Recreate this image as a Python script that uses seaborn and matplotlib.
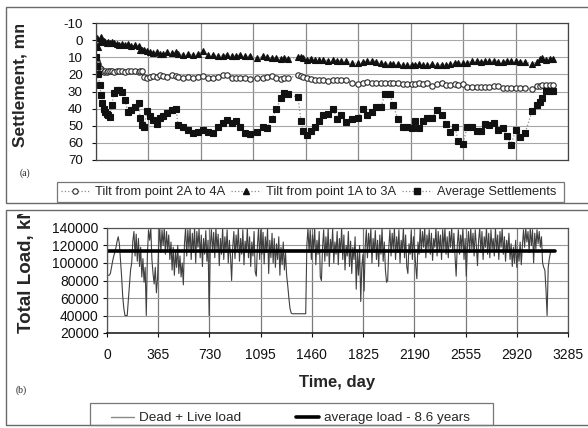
import numpy as np
import pandas as pd
import matplotlib
matplotlib.use("Agg")
import matplotlib.pyplot as plt
import seaborn as sns
from matplotlib.patches import Rectangle
from matplotlib.lines import Line2D
from matplotlib.transforms import Bbox, TransformedBbox

# ---------------- data: panel (a) settlements ----------------
days = [0, 8, 16, 25, 35, 45, 55, 65, 75, 85,
        97, 110, 125, 144, 160, 179, 200, 223, 247, 271,
        299, 306, 318, 334, 353, 376, 397, 422, 445, 466,
        492, 527, 557, 571, 606, 640, 675, 710, 745, 780,
        814, 849, 884, 912, 947, 974, 1002, 1037, 1072, 1121,
        1162, 1190, 1225, 1253, 1288, 1309, 1336, 1406, 1427, 1441,
        1469, 1496, 1524, 1552, 1580, 1615, 1650, 1677, 1705, 1740,
        1782, 1823, 1858, 1886, 1921, 1949, 1984, 2011, 2046, 2067,
        2102, 2137, 2165, 2199, 2220, 2248, 2276, 2304, 2339, 2373,
        2408, 2436, 2464, 2499, 2520, 2554, 2582, 2617, 2652, 2680,
        2707, 2735, 2770, 2798, 2833, 2861, 2888, 2923, 2951, 2986,
        3035, 3069, 3090, 3104, 3132, 3160, 3180]

tilt_2a_4a = [10, 12, 14, 16, 17, 18, 18.5, 18, 18.5, 18,
              18.2, 18, 18.5, 18, 18.2, 18, 18.5, 18, 18.2, 18,
              18.5, 18, 18.2, 21.5, 22, 21.5, 21, 21.5, 20.6, 21,
              21.5, 20.3, 21, 21.5, 22, 21.8, 22, 21.5, 21, 22,
              22, 21.8, 20.5, 20.5, 22, 22.3, 22, 22, 22.5, 22,
              22, 21.5, 21, 22, 22.5, 22, 22.2, 20.6, 21, 21.7,
              22, 22.5, 23, 23.5, 23.5, 24, 23, 23, 23.5, 23,
              25, 25.5, 25, 24.5, 25, 25, 24.8, 25, 25.2, 25,
              25, 25.5, 25.8, 25.6, 25.6, 25.2, 25.6, 25, 26.5, 25.8,
              25.2, 26, 26.2, 25.5, 26.3, 25.5, 27.5, 27.5, 27.2, 27.5,
              27.5, 27.5, 26.5, 26.8, 28, 28, 28, 28, 28.2, 28,
              28.8, 26.5, 27, 26, 26, 26, 26]

tilt_1a_3a = [3, -1, 4, 1, -2, 0, 0.5, 1, 1.5, 1,
              1.5, 1.2, 1.8, 2.5, 3, 2.5, 3, 2.5, 3.5, 3,
              3.5, 5.5, 6, 5.5, 6.5, 7, 7.5, 7, 8, 8,
              7, 7.5, 7, 8, 8.5, 8.2, 8.5, 8, 6.5, 8.5,
              8.8, 9, 9, 8.8, 9, 9, 8.8, 9, 9.5, 10.7,
              9.5, 10, 10.5, 10.5, 11, 10.5, 11, 10, 10, 10.5,
              11.4, 11, 11.5, 11.4, 11.5, 12, 11.5, 12, 12.3, 12,
              13.4, 13.4, 13, 12, 12, 12.5, 13.6, 14, 14, 13.8,
              14.2, 14.5, 14.3, 14.6, 14.3, 14.2, 14.3, 14.3, 14.2, 14.3,
              14.5, 14.3, 14, 13.4, 13.2, 13.4, 13.2, 12.4, 12.4, 12.6,
              12.4, 12.4, 12, 12.5, 12.8, 12, 12.4, 12, 12.5, 12.6,
              14, 12.5, 11, 10.5, 11.4, 11, 11]

avg_settlement = [10, 15, 20, 26, 32, 37, 40, 42, 43, 44,
                  45, 38, 31, 29, 29, 30, 35, 42, 41, 39,
                  37, 45.5, 49.7, 51, 41.5, 44.5, 46.5, 49, 45.5, 44.5,
                  42.5, 41, 40, 49.5, 50.5, 52.5, 54, 53.5, 52.5, 53.5,
                  54, 50.5, 48.5, 46.5, 48.5, 47.5, 50.5, 54, 55, 53.5,
                  51, 51.5, 46, 40.5, 34, 31, 31.4, 33.5, 47, 53,
                  55.5, 53, 50.5, 47, 44, 43, 40, 46, 44, 48,
                  46, 45.5, 40, 44, 42, 39, 39, 31.5, 31.5, 38,
                  46, 50.5, 51, 51.3, 47.5, 51.3, 47.5, 45.5, 45.5, 40.6,
                  43.5, 49, 53.7, 51, 58.7, 60.6, 51, 51, 53.3, 53.3,
                  49, 49.8, 48.4, 52.3, 51.3, 56.2, 61, 52.3, 56.8, 54.2,
                  41.6, 38, 36.3, 33.8, 29.9, 29.9, 29.9]

settle_labels = ["Tilt from point 2A to 4A", "Tilt from point 1A to 3A", "Average Settlements"]
settle_yticks = [-10, 0, 10, 20, 30, 40, 50, 60, 70]

# ---------------- data: panel (b) loads ----------------
load_step_days = 8   # sampling interval of the load record
load_kN_thousands = [
    86, 86, 86, 88, 95, 102, 108, 112, 118, 125, 130, 122, 104, 85, 62, 48, 40, 40, 40, 58, 75, 92, 100, 125,
    136, 108, 133, 102, 128, 96, 118, 84, 105, 78, 95, 40, 110,
    138, 126, 140, 104, 88, 76, 95, 66, 82,
    118, 140, 112, 138, 120, 140, 110, 136, 115, 132, 104,
    124, 92, 118, 86, 112, 95, 120, 88, 108, 84, 100, 75,
    122, 140, 108, 138, 116, 140, 104, 134, 112, 140, 100, 136, 118, 139, 106, 132, 96, 128, 110, 137, 102, 126, 40,
    120, 138, 112, 135, 106, 140, 115, 133, 97, 128, 110, 140, 104, 130, 112, 138, 100, 126, 108, 80, 118,
    136, 105, 132, 114, 140, 102, 128, 110, 138, 98, 125, 112, 140, 106, 130, 96, 124, 108, 136, 90, 85, 120, 140, 104,
    138, 110, 135, 99, 130, 112, 140, 88, 126, 106, 134, 100, 128, 95, 122, 104, 130, 86, 118, 98, 124, 92, 112, 86, 74,
    60, 48, 43, 42, 42, 42, 42, 42, 42, 42, 42, 42, 42, 42, 42, 42, 120, 140,
    112, 138, 104, 132, 116, 140, 98, 126, 110, 136, 84, 80, 118, 138, 102, 130, 108, 140, 96, 127, 113, 139, 100, 124, 110, 136,
    98, 128, 112, 140, 104, 132, 92, 120, 108, 136, 96, 125, 88, 118, 104, 130, 70, 112, 86, 120, 56, 96, 110, 68, 118,
    138, 106, 134, 114, 140, 100, 128, 112, 137, 104, 126, 96, 132, 110, 140, 102, 124, 92, 78, 80, 118,
    138, 108, 134, 116, 140, 104, 130, 112, 138, 100, 126, 114, 140, 106, 132, 96, 88, 122, 110, 138, 104, 130, 116, 96, 82, 124, 110,
    140, 112, 136, 118, 140, 106, 132, 116, 138, 110, 134, 103, 128, 118, 140, 108, 136, 114, 132, 104, 138, 116, 140, 110, 130, 106, 136, 118, 140, 112,
    134, 108, 85, 120, 138, 110, 132, 116, 140, 104, 128, 85, 118, 136, 112, 140,
    116, 134, 108, 138, 120, 97, 126, 140, 112, 136, 104, 130, 118, 140, 110, 134, 106, 138, 116, 128, 108, 140, 114, 132, 104, 136, 118, 140, 110, 130, 102, 126, 112, 134,
    104, 122, 96, 118, 100, 126, 95, 115, 102, 124, 98, 120,
    138, 118, 140, 124, 136, 112, 140, 120, 138, 100, 134, 116, 138, 122, 136, 118, 130,
    100, 95, 92, 70, 40, 95, 105, 112,
]
avg_load_kN = 114000
avg_line_days = [0, 3190]
load_labels = ["Dead + Live load", "average load - 8.6 years"]
day_ticks = [0, 365, 730, 1095, 1460, 1825, 2190, 2555, 2920, 3285]
load_yticks = [20000, 40000, 60000, 80000, 100000, 120000, 140000]

# ---------------- figure ----------------
sns.set_theme(style="white")
plt.rcParams["font.family"] = ["Liberation Sans", "DejaVu Sans"]
plt.rcParams["axes.unicode_minus"] = False

W, H = 588, 428
fig = plt.figure(figsize=(W / 100, H / 100), dpi=100)
fig.patch.set_facecolor("white")


def fx(px):
    return px / W


def fy(py):
    return 1 - py / H


ax1 = fig.add_axes([fx(96), fy(160), fx(568) - fx(96), fy(23) - fy(160)])
ax2 = fig.add_axes([fx(107), fy(333), fx(568) - fx(107), fy(228) - fy(333)])

# panel frames
fig.add_artist(Rectangle((fx(6), fy(203)), 1.0, fy(7) - fy(203), transform=fig.transFigure,
                         fill=False, edgecolor="#6a6a6a", lw=1.0))
fig.add_artist(Rectangle((fx(6), fy(425)), 1.0, fy(210) - fy(425), transform=fig.transFigure,
                         fill=False, edgecolor="#6a6a6a", lw=1.0))

# ---- panel (a)
settle = pd.DataFrame({"day": days, "c": tilt_2a_4a, "t": tilt_1a_3a, "s": avg_settlement})
line_kw = dict(linestyle=":", lw=0.9, color="#8c8c8c", markeredgewidth=0.8)
sns.lineplot(data=settle, x="day", y="c", ax=ax1, marker="o", markersize=3.9,
             markerfacecolor="white", markeredgecolor="#2a2a2a", **line_kw)
sns.lineplot(data=settle, x="day", y="t", ax=ax1, marker="^", markersize=4.3,
             markerfacecolor="#111111", markeredgecolor="#111111", **line_kw)
sns.lineplot(data=settle, x="day", y="s", ax=ax1, marker="s", markersize=4.6,
             markerfacecolor="#111111", markeredgecolor="#111111", **line_kw)

ax1.set_xlim(day_ticks[0], day_ticks[-1])
ax1.set_ylim(settle_yticks[-1], settle_yticks[0])
ax1.set_yticks(settle_yticks)
ax1.set_xticks(day_ticks)
ax1.set_xticklabels([])
ax1.set_xlabel("")
ax1.set_ylabel("")
ax1.xaxis.grid(True, color="#8a8a8a", lw=0.9)
ax1.yaxis.grid(True, color="#a6a6a6", lw=0.8)
ax1.tick_params(axis="y", labelsize=9.6, colors="#111111", length=3, width=0.8, pad=6.5, left=True)
ax1.tick_params(axis="x", length=0)
for sp in ax1.spines.values():
    sp.set_color("#444444")
    sp.set_linewidth(0.9)

# ---- panel (b)
load_values = np.array(load_kN_thousands) * 1000
load_days = np.arange(len(load_values)) * load_step_days
sns.lineplot(x=load_days, y=load_values, ax=ax2, color="#404040", lw=0.8)
sns.lineplot(x=avg_line_days, y=[avg_load_kN] * len(avg_line_days), ax=ax2, color="black", lw=2.6)
ax2.set_xlim(day_ticks[0], day_ticks[-1])
ax2.set_ylim(load_yticks[0], load_yticks[-1])
ax2.set_xticks(day_ticks)
ax2.set_yticks(load_yticks)
ax2.set_xticklabels([str(d) for d in day_ticks])
ax2.set_yticklabels([str(v) for v in load_yticks])
ax2.xaxis.grid(True, color="#7a7a7a", lw=0.9)
ax2.yaxis.grid(True, color="#9a9a9a", lw=0.8)
ax2.tick_params(axis="both", labelsize=10, colors="#111111", length=3, width=0.8, bottom=True, left=True)
ax2.tick_params(axis="x", pad=7.5)
ax2.tick_params(axis="y", pad=3)
ax2.set_xlabel("")
ax2.set_ylabel("")
for sp in ax2.spines.values():
    sp.set_color("#555555")
    sp.set_linewidth(0.9)
ax2.spines["bottom"].set_color("#111111")
ax2.spines["bottom"].set_linewidth(1.1)

fig.text(fx(337), fy(382), "Time, day", ha="center", va="center", fontsize=12, fontweight="bold")

# y labels (clipped like the original)
t1 = fig.text(fx(20), fy(147), "Settlement, mm", rotation=90, ha="center", va="bottom",
              fontsize=12.5, fontweight="bold")
t1.set_clip_box(TransformedBbox(Bbox([[0, 0], [1, fy(25)]]), fig.transFigure))
t1.set_clip_on(True)
t2 = fig.text(fx(27), fy(333), "Total Load, kN", rotation=90, ha="center", va="bottom",
              fontsize=13.5, fontweight="bold")
t2.set_clip_box(TransformedBbox(Bbox([[0, 0], [1, fy(214)]]), fig.transFigure))
t2.set_clip_on(True)

fig.text(fx(25), fy(173), "(a)", ha="center", va="center", fontsize=7, family="Liberation Serif")
fig.text(fx(21), fy(390), "(b)", ha="center", va="center", fontsize=7, family="Liberation Serif")

# ---- legends
h_c = Line2D([], [], linestyle=":", color="#8c8c8c", lw=0.9, marker="o", markersize=3.9,
             markerfacecolor="white", markeredgecolor="#2a2a2a", markeredgewidth=0.8)
h_t = Line2D([], [], linestyle=":", color="#8c8c8c", lw=0.9, marker="^", markersize=4.3,
             markerfacecolor="#111111", markeredgecolor="#111111")
h_s = Line2D([], [], linestyle=":", color="#8c8c8c", lw=0.9, marker="s", markersize=4.6,
             markerfacecolor="#111111", markeredgecolor="#111111")
fig.add_artist(Rectangle((fx(57), fy(202)), fx(564) - fx(57), fy(182) - fy(202),
                         transform=fig.transFigure, fill=False, edgecolor="#777777", lw=0.9))
fig.legend([h_c, h_t, h_s], settle_labels, loc="center", bbox_to_anchor=(fx(308.5), fy(192)),
           ncol=3, frameon=False, fontsize=9.3, handlelength=2.3, handletextpad=0.4,
           columnspacing=0.45, borderpad=0, borderaxespad=0)

h_l = Line2D([], [], color="#8a8a8a", lw=1.0)
h_a = Line2D([], [], color="black", lw=2.6)
fig.add_artist(Rectangle((fx(90), fy(425)), fx(493) - fx(90), fy(403) - fy(425),
                         transform=fig.transFigure, fill=False, edgecolor="#777777", lw=0.9))
fig.legend([h_l, h_a], load_labels, loc="center", bbox_to_anchor=(fx(290.5), fy(418)),
           ncol=2, frameon=False, fontsize=9.7, handlelength=1.75, handletextpad=0.38,
           columnspacing=4.0, borderpad=0, borderaxespad=0)

fig.savefig("out.png", dpi=100, facecolor="white")
